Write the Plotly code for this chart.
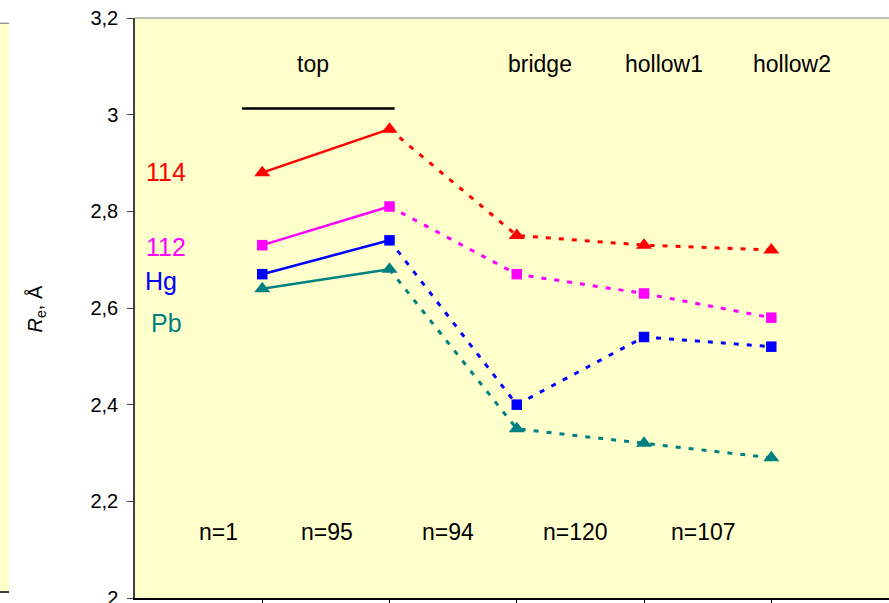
import plotly.graph_objects as go

# Adsorption sites along the x axis (two "top" configurations, then bridge, hollow1, hollow2)
site_pos = [1, 2, 3, 4, 5]
site_names = ["top", "bridge", "hollow1", "hollow2"]
site_name_pos = [1.40, 3.18, 4.16, 5.16]

# Cluster sizes written between the sites
cluster_labels = ["n=1", "n=95", "n=94", "n=120", "n=107"]
cluster_label_pos = [0.66, 1.51, 2.46, 3.46, 4.47]

# Equilibrium distances R_e (Å)
re_114 = [2.88, 2.97, 2.75, 2.73, 2.72]
re_112 = [2.73, 2.81, 2.67, 2.63, 2.58]
re_hg = [2.67, 2.74, 2.40, 2.54, 2.52]
re_pb = [2.64, 2.68, 2.35, 2.32, 2.29]

series_names = ["114", "112", "Hg", "Pb"]
series_values = [re_114, re_112, re_hg, re_pb]
series_colors = ["#FF0000", "#FF00FF", "#0000FF", "#008080"]
series_symbols = ["triangle-up", "square", "square", "triangle-up"]
series_label_pos = [(0.245, 2.882), (0.245, 2.727), (0.205, 2.655), (0.25, 2.57)]

y_tick_vals = [2.0, 2.2, 2.4, 2.6, 2.8, 3.0, 3.2]
y_tick_text = ["2", "2,2", "2,4", "2,6", "2,8", "3", "3,2"]

FONT = "Liberation Sans, Arial, sans-serif"
BG = "#FFFFCC"

fig = go.Figure()

for name, vals, col, sym in zip(series_names, series_values, series_colors, series_symbols):
    # solid segment between the two top configurations
    fig.add_trace(go.Scatter(
        x=site_pos[:2], y=vals[:2], mode="lines",
        line=dict(color=col, width=2.5), showlegend=False, hoverinfo="skip"))
    # dotted segments towards the other sites
    fig.add_trace(go.Scatter(
        x=site_pos[1:], y=vals[1:], mode="lines",
        line=dict(color=col, width=3, dash="5px,8px"), showlegend=False, hoverinfo="skip"))
    fig.add_trace(go.Scatter(
        x=site_pos, y=vals, mode="markers", name=name,
        marker=dict(color=col, symbol=sym, size=14 if sym == "triangle-up" else 10.5,
                    line=dict(width=0)),
        showlegend=False))

annotations = []
for txt, xp in zip(site_names, site_name_pos):
    annotations.append(dict(x=xp, y=3.105, xref="x", yref="y", text=txt, showarrow=False,
                            font=dict(family=FONT, size=23, color="#000000"),
                            xanchor="center", yanchor="middle"))
for txt, xp in zip(cluster_labels, cluster_label_pos):
    annotations.append(dict(x=xp, y=2.136, xref="x", yref="y", text=txt, showarrow=False,
                            font=dict(family=FONT, size=23, color="#000000"),
                            xanchor="center", yanchor="middle"))
for txt, (xp, yp), col in zip(series_names, series_label_pos, series_colors):
    annotations.append(dict(x=xp, y=yp, xref="x", yref="y", text=txt, showarrow=False,
                            font=dict(family=FONT, size=25, color=col),
                            xanchor="center", yanchor="middle"))
# y-axis title
annotations.append(dict(x=-0.131, y=0.498, xref="paper", yref="paper",
                        text="<i>R</i><sub>e</sub>, Å", textangle=-90, showarrow=False,
                        font=dict(family=FONT, size=20, color="#000000"),
                        xanchor="center", yanchor="middle"))

shapes = [
    # bar marking the two "top" configurations
    dict(type="line", xref="x", yref="y", x0=0.84, x1=2.04, y0=3.013, y1=3.013,
         line=dict(color="#000000", width=2.5)),
    # plot area top border
    dict(type="line", xref="paper", yref="paper", x0=0, x1=1, y0=1, y1=1,
         line=dict(color="#808080", width=1.2)),
    # neighbouring panel edge on the far left
    dict(type="rect", xref="paper", yref="paper", x0=-0.185, x1=-0.167, y0=0.0103, y1=0.991,
         fillcolor=BG, line=dict(width=0), layer="below"),
    dict(type="line", xref="paper", yref="paper", x0=-0.185, x1=-0.167, y0=0.991, y1=0.991,
         line=dict(color="#808080", width=1.2)),
    dict(type="line", xref="paper", yref="paper", x0=-0.185, x1=-0.167, y0=0.0103, y1=0.0103,
         line=dict(color="#404040", width=2)),
]

fig.update_layout(
    width=889, height=603,
    margin=dict(l=135, r=0, t=18, b=5),
    paper_bgcolor="#FFFFFF", plot_bgcolor=BG,
    font=dict(family=FONT, size=20, color="#000000"),
    annotations=annotations, shapes=shapes,
    xaxis=dict(range=[0, 5.925], showgrid=False, zeroline=False, automargin=False,
               tickvals=site_pos, showticklabels=False,
               ticks="outside", ticklen=5, tickcolor="#000000", tickwidth=1,
               showline=True, linecolor="#000000", linewidth=1.5),
    yaxis=dict(range=[2.0, 3.2], showgrid=False, zeroline=False, automargin=False,
               tickvals=y_tick_vals, ticktext=y_tick_text,
               ticks="outside", ticklen=6, tickcolor="#404040", tickwidth=1,
               ticklabelstandoff=5, ticklabeloverflow="allow",
               tickfont=dict(family=FONT, size=20, color="#000000"),
               showline=True, linecolor="#404040", linewidth=1.5),
)

fig.write_html("out.html")
